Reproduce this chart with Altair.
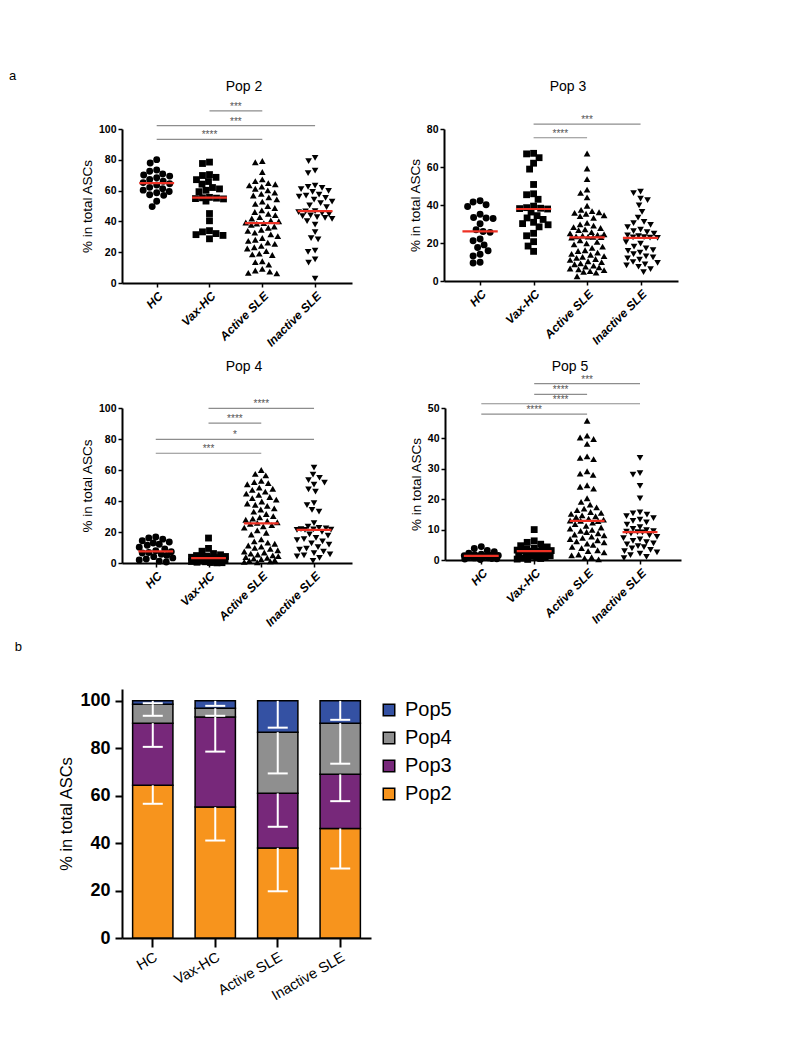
import math
import json
import altair as alt
import pandas as pd

FONT = "Liberation Sans"
GROUPS = ["HC", "Vax-HC", "Active SLE", "Inactive SLE"]
SHAPES = ["circle", "square", "triangle-up", "triangle-down"]
SIZES = [48, 44, 60, 60]

# ---------------- Pop 2 (% in total ASCs) ----------------
pop2_hc = [80.1, 77.9, 73.4, 72.6, 70.8, 70.1, 69.4, 68.3, 67.2, 66.1, 65.2, 64.4, 63.6, 62.1, 61.2,
           60.3, 59.4, 58.6, 57.3, 56.9, 53.1, 49.6]
pop2_vax = [78.5, 77.6, 70.4, 69.8, 68.6, 67.1, 65.9, 64.2, 62.0, 61.1, 60.2, 59.3, 55.6, 55.3, 55.1,
            54.8, 54.6, 53.2, 45.1, 40.4, 34.0, 33.2, 32.1, 31.4, 30.9, 28.7]
pop2_act = [79.2, 78.4, 72.1, 67.3, 66.2, 64.8, 64.1, 63.4, 62.6, 61.2, 60.1, 58.7, 57.9, 56.8, 55.6,
            54.3, 52.8, 51.4, 49.9, 48.7, 47.2, 46.1, 44.9, 44.1, 42.8, 41.9, 40.6, 40.1, 39.3, 38.9,
            38.6, 37.8, 36.7, 35.9, 34.6, 33.8, 32.7, 31.6, 30.4, 29.2, 28.1, 27.3, 26.2, 25.4, 24.1,
            23.2, 22.4, 20.7, 19.1, 18.6, 18.2, 14.1, 13.6, 11.9, 9.2, 8.1, 7.4, 6.6, 6.2]
pop2_ina = [81.2, 79.1, 72.9, 71.4, 63.2, 62.4, 61.8, 60.9, 59.8, 59.1, 57.4, 56.8, 56.1, 55.2, 54.1,
            52.9, 51.8, 50.4, 49.3, 46.7, 46.5, 46.0, 45.3, 44.8, 43.9, 43.4, 42.8, 42.3, 41.7, 40.2,
            37.9, 33.1, 29.2, 28.4, 21.1, 20.2, 15.4, 13.2, 2.9]
pop2_sig_from = [0, 0, 1]
pop2_sig_to = [2, 3, 2]
pop2_sig_level = [93.3, 102.2, 111.8]
pop2_sig_text = ["****", "***", "***"]

# ---------------- Pop 3 ----------------
pop3_hc = [42.2, 41.6, 40.1, 39.2, 35.1, 33.4, 33.2, 32.9, 30.1, 27.0, 26.1, 25.6, 22.1, 21.2, 19.0,
           17.6, 15.9, 14.1, 13.2, 9.9, 9.5]
pop3_vax = [67.2, 66.9, 64.9, 62.0, 58.9, 50.8, 45.9, 45.4, 43.0, 39.4, 38.6, 38.3, 38.1, 37.9, 36.3,
            34.4, 33.2, 32.4, 30.9, 30.2, 29.6, 28.5, 25.1, 23.8, 20.7, 18.4, 15.6]
pop3_act = [67.1, 59.2, 53.6, 48.1, 46.4, 44.0, 39.6, 37.4, 36.8, 36.2, 35.9, 35.4, 34.6, 34.1, 33.2,
            30.6, 29.8, 29.1, 28.4, 27.9, 27.2, 26.8, 25.7, 25.1, 24.6, 24.3, 23.9, 23.5, 23.4, 23.2,
            23.1, 22.9, 21.4, 20.6, 19.8, 19.3, 18.1, 17.4, 16.2, 15.8, 14.9, 14.3, 13.8, 13.1, 12.7,
            12.2, 11.6, 11.1, 10.4, 9.9, 9.3, 8.8, 8.1, 7.6, 7.2, 6.6, 6.1, 5.7, 5.2, 4.8, 4.4, 2.5]
pop3_ina = [47.1, 46.2, 43.4, 42.6, 39.8, 36.4, 33.3, 31.1, 30.4, 29.6, 28.3, 27.1, 26.2, 25.7, 24.9,
            24.0, 23.6, 23.1, 22.9, 22.8, 22.7, 20.4, 19.7, 18.1, 17.2, 16.3, 15.9, 15.0, 14.1, 13.0,
            12.4, 11.9, 11.3, 10.0, 9.6, 8.8, 8.2, 7.5, 6.3, 4.7]
pop3_sig_from = [1, 1]
pop3_sig_to = [2, 3]
pop3_sig_level = [75.4, 82.6]
pop3_sig_text = ["****", "***"]

# ---------------- Pop 4 ----------------
pop4_hc = [16.8, 16.2, 15.4, 14.3, 13.6, 12.9, 12.1, 11.4, 10.2, 9.1, 7.9, 7.2, 6.8, 6.4, 5.7, 4.9,
           4.1, 3.3, 2.6, 1.9, 1.2, 0.6]
pop4_vax = [16.1, 9.4, 7.6, 6.1, 5.3, 4.8, 4.5, 4.2, 3.9, 3.7, 3.5, 3.4, 3.3, 3.2, 3.0, 2.8, 2.5,
            2.2, 1.9, 1.6, 1.3, 1.0, 0.8, 0.5, 0.3, 0.2, 0.1]
pop4_act = [60.0, 57.5, 56.5, 53.0, 52.2, 51.5, 50.8, 48.6, 47.9, 47.2, 46.1, 44.8, 43.9, 42.6, 41.8,
            40.9, 39.7, 38.4, 37.6, 36.8, 35.2, 34.5, 33.1, 31.6, 30.2, 29.4, 28.6, 27.9, 27.1, 26.3,
            25.9, 25.3, 24.4, 23.6, 22.8, 21.1, 19.5, 18.4, 15.2, 13.9, 13.1, 12.4, 11.3, 10.6, 9.8,
            9.1, 8.2, 7.4, 6.8, 6.1, 5.5, 4.9, 4.4, 3.8, 3.3, 2.9, 2.4, 1.9, 1.5, 1.1, 0.7, 0.4]
pop4_ina = [61.5, 57.0, 55.0, 53.5, 51.8, 50.6, 47.5, 46.0, 38.6, 37.4, 34.2, 33.1, 25.8, 23.4, 22.6,
            22.3, 21.9, 21.7, 21.5, 21.4, 21.3, 20.1, 18.4, 17.6, 16.2, 15.4, 14.7, 13.9, 12.6, 11.8,
            10.3, 9.2, 8.6, 7.4, 6.3, 5.6, 4.9, 4.2, 3.3, 1.3]
pop4_sig_from = [0, 0, 1, 1]
pop4_sig_to = [2, 3, 2, 3]
pop4_sig_level = [70.8, 79.8, 90.3, 99.8]
pop4_sig_text = ["***", "*", "****", "****"]

# ---------------- Pop 5 ----------------
pop5_hc = [4.4, 3.8, 3.1, 2.7, 2.2, 1.9, 1.75, 1.6, 1.52, 1.44, 1.37, 1.29, 1.18, 1.06, 0.97, 0.88,
           0.76, 0.69, 0.52, 0.41, 0.33, 0.18]
pop5_vax = [10.0, 6.3, 5.8, 5.2, 4.7, 4.3, 3.9, 3.6, 3.4, 3.25, 3.1, 3.0, 2.95, 2.9, 2.7, 2.4, 2.1,
            1.9, 1.6, 1.4, 1.2, 1.0, 0.8, 0.6, 0.5, 0.3, 0.2]
pop5_act = [45.8, 40.9, 40.3, 39.8, 38.2, 34.1, 33.6, 33.2, 29.2, 28.4, 28.0, 24.6, 24.1, 23.5, 20.3,
            19.1, 18.2, 17.3, 16.9, 16.4, 15.8, 15.5, 15.2, 14.7, 14.4, 14.1, 13.6, 13.3, 13.0, 12.9,
            12.8, 12.3, 11.8, 11.2, 10.7, 10.3, 9.9, 9.6, 9.2, 8.8, 8.4, 8.1, 7.7, 7.3, 6.9, 6.5, 6.1,
            5.8, 5.4, 5.0, 4.3, 3.9, 3.2, 2.9, 2.5, 1.8, 1.5, 0.9, 0.6, 0.2]
pop5_ina = [33.6, 28.6, 28.1, 24.4, 20.3, 15.7, 15.3, 14.9, 14.4, 13.8, 13.3, 12.9, 12.4, 11.6, 10.8,
            10.2, 9.8, 9.5, 9.3, 9.2, 9.1, 8.7, 8.1, 7.6, 7.2, 6.8, 6.3, 5.9, 5.5, 5.1, 4.6, 4.2, 3.8,
            3.3, 2.9, 2.5, 2.1, 1.6, 1.0, 0.6]
pop5_sig_from = [0, 0, 1, 1]
pop5_sig_to = [2, 3, 2, 3]
pop5_sig_level = [48.0, 51.4, 54.5, 58.0]
pop5_sig_text = ["****", "****", "****", "***"]

# ---------------- b: stacked means with SD ----------------
BAR_POPS = ["Pop2", "Pop3", "Pop4", "Pop5"]
bar_hc_mean = [64.4, 26.2, 8.0, 1.4]
bar_vax_mean = [55.2, 38.0, 3.7, 3.1]
bar_act_mean = [38.0, 23.0, 25.8, 13.2]
bar_ina_mean = [46.2, 22.8, 21.6, 9.4]
bar_hc_sd = [7.8, 10.0, 4.9, 1.0]
bar_vax_sd = [14.1, 14.6, 3.2, 2.1]
bar_act_sd = [18.3, 14.1, 17.4, 11.3]
bar_ina_sd = [16.9, 11.3, 17.1, 8.0]
POP_COLORS = {"Pop5": "#3451A3", "Pop4": "#8F8F8F", "Pop3": "#77287A", "Pop2": "#F7941D"}

LABEL_EXPR = json.dumps(GROUPS) + "[datum.value]"


def swarm(values, ppu_y, px_per_x, diam=7.0, limit=17.0):
    n = len(values)
    order = sorted(range(n), key=lambda i: -values[i])
    cands = sorted([k * 0.5 for k in range(-int(limit * 2), int(limit * 2) + 1)],
                   key=lambda c: (abs(c), c))
    placed = []
    res = [0.0] * n
    for i in order:
        y = values[i] * ppu_y
        near = [(px, py) for px, py in placed if abs(py - y) < diam]
        chosen, best, bestc = None, -1.0, 0.0
        for c in cands:
            md = min((math.hypot(c - px, y - py) for px, py in near), default=1e9)
            if md >= diam:
                chosen = c
                break
            if md > best:
                best, bestc = md, c
        if chosen is None:
            chosen = bestc
        placed.append((chosen, y))
        res[i] = chosen / px_per_x
    return res


def text_mark(txt, x, y, color="black", size=13, align="left", baseline="top"):
    return alt.Chart(pd.DataFrame({"t": [txt]})).mark_text(
        align=align, baseline=baseline, font=FONT, fontSize=size, color=color
    ).encode(x=alt.value(x), y=alt.value(y), text="t:N")


def panel(title, lists, ymax, ystep, w, h, xdom, sig, title_y, extra=None):
    ppu = h / ymax
    pxx = w / (xdom[1] - xdom[0])
    rows = []
    for gi, (g, vals) in enumerate(zip(GROUPS, lists)):
        offs = swarm(vals, ppu, pxx)
        for v, o in zip(vals, offs):
            rows.append({"group": g, "gi": gi, "value": v, "xpos": gi + o})
    df = pd.DataFrame(rows)
    xs = alt.Scale(domain=xdom, nice=False, zero=False)
    ys = alt.Scale(domain=[0, ymax], nice=False, zero=True)
    xa = alt.Axis(values=[0, 1, 2, 3], labelExpr=LABEL_EXPR, title=None, grid=False,
                  labelAngle=-45, labelAlign="right", labelBaseline="top", labelFont=FONT,
                  labelFontSize=12, labelFontWeight="bold", labelFontStyle="italic",
                  labelOverlap=False, labelFlush=False, labelPadding=3, tickSize=4,
                  tickWidth=1.5, domainWidth=2, domainColor="black", tickColor="black",
                  labelColor="black")
    ya = alt.Axis(values=list(range(0, ymax + 1, ystep)), title="% in total ASCs",
                  titleFont=FONT, titleFontSize=13.5, titleFontWeight="normal",
                  titleColor="black", titlePadding=4, grid=False, labelFont=FONT,
                  labelFontSize=10.5, labelFontWeight="bold", labelColor="black",
                  tickSize=4, tickWidth=1.5, domainWidth=2, domainColor="black",
                  tickColor="black", labelPadding=2)

    def X(f):
        return alt.X(f, scale=xs, axis=xa)

    def Y(f):
        return alt.Y(f, scale=ys, axis=ya)

    pts = alt.Chart(df).mark_point(filled=True, opacity=1, color="black").encode(
        x=X("xpos:Q"), y=Y("value:Q"),
        shape=alt.Shape("group:N", scale=alt.Scale(domain=GROUPS, range=SHAPES), legend=None),
        size=alt.Size("group:N", scale=alt.Scale(domain=GROUPS, range=SIZES), legend=None),
    )
    med = alt.Chart(df).transform_aggregate(
        med="median(value)", groupby=["gi"]
    ).transform_calculate(
        xa="datum.gi - 0.33", xb="datum.gi + 0.33"
    ).mark_rule(color="#EE3124", strokeWidth=2.2).encode(
        x=X("xa:Q"), x2="xb:Q", y=Y("med:Q"))
    sdf = pd.DataFrame({"a": sig[0], "b": sig[1], "y": sig[2], "t": sig[3]})
    sr = alt.Chart(sdf).mark_rule(color="#8d8d8d", strokeWidth=1.2).encode(
        x=X("a:Q"), x2="b:Q", y=Y("y:Q"))
    st = alt.Chart(sdf).transform_calculate(m="(datum.a + datum.b) / 2").mark_text(
        font=FONT, fontSize=10, color="#555555", baseline="alphabetic", dy=-1
    ).encode(x=X("m:Q"), y=Y("y:Q"), text="t:N")
    ttl = text_mark(title, w / 2 + 7, title_y, size=14, align="center", baseline="alphabetic")
    layers = [pts, med, sr, st, ttl]
    if extra is not None:
        layers += extra
    return alt.layer(*layers).properties(width=w, height=h)


p2 = panel("Pop 2", [pop2_hc, pop2_vax, pop2_act, pop2_ina], 100, 20, 230, 154,
           [-0.657, 3.699], (pop2_sig_from, pop2_sig_to, pop2_sig_level, pop2_sig_text), -37.7,
           extra=[text_mark("a", -113, -59)])
p3 = panel("Pop 3", [pop3_hc, pop3_vax, pop3_act, pop3_ina], 80, 20, 234, 152,
           [-0.675, 3.70], (pop3_sig_from, pop3_sig_to, pop3_sig_level, pop3_sig_text), -37.7)
p4 = panel("Pop 4", [pop4_hc, pop4_vax, pop4_act, pop4_ina], 100, 20, 230, 155,
           [-0.64, 3.72], (pop4_sig_from, pop4_sig_to, pop4_sig_level, pop4_sig_text), -37.4)
p5 = panel("Pop 5", [pop5_hc, pop5_vax, pop5_act, pop5_ina], 50, 10, 236, 152,
           [-0.686, 3.775], (pop5_sig_from, pop5_sig_to, pop5_sig_level, pop5_sig_text), -37.4)

# ---------------- bar chart ----------------
bar_rows = []
for g, means, sds in zip(GROUPS,
                         [bar_hc_mean, bar_vax_mean, bar_act_mean, bar_ina_mean],
                         [bar_hc_sd, bar_vax_sd, bar_act_sd, bar_ina_sd]):
    for k, (p, m, s) in enumerate(zip(BAR_POPS, means, sds)):
        bar_rows.append({"group": g, "pop": p, "ord": k, "value": m, "sd": s})
bdf = pd.DataFrame(bar_rows)

bx = alt.Scale(domain=GROUPS, paddingInner=0.355, paddingOuter=0.17)
by = alt.Scale(domain=[0, 105], nice=False)
bxa = alt.Axis(title=None, labelAngle=-30, labelAlign="right", labelBaseline="top",
               labelFont=FONT, labelFontSize=14.5, labelColor="black", labelPadding=3,
               tickSize=9, tickWidth=2, domainWidth=2, domainColor="black", tickColor="black")
bya = alt.Axis(values=[0, 20, 40, 60, 80, 100], title="% in total ASCs", titleFont=FONT,
               titleFontSize=16.5, titleFontWeight="normal", titleColor="black", titlePadding=5,
               grid=False, labelFont=FONT, labelFontSize=18, labelFontWeight="bold",
               labelColor="black", tickSize=7, tickWidth=2, domainWidth=2, domainColor="black",
               tickColor="black", labelPadding=5)
leg_order = ["Pop5", "Pop4", "Pop3", "Pop2"]
bars = alt.Chart(bdf).mark_bar(stroke="black", strokeWidth=1.5).encode(
    x=alt.X("group:N", scale=bx, axis=bxa, sort=GROUPS),
    y=alt.Y("value:Q", scale=by, axis=bya, stack="zero"),
    color=alt.Color("pop:N",
                    scale=alt.Scale(domain=leg_order, range=[POP_COLORS[p] for p in leg_order]),
                    legend=alt.Legend(title=None, orient="none", legendX=257, legendY=11,
                                      symbolType="square", symbolSize=132,
                                      symbolStrokeColor="black", symbolStrokeWidth=1.5,
                                      symbolOpacity=1, labelFont=FONT, labelFontSize=20,
                                      labelColor="black", rowPadding=8, labelOffset=6)),
    order=alt.Order("ord:Q", sort="ascending"),
)
err = alt.Chart(bdf).transform_window(
    cum="sum(value)", groupby=["group"], sort=[alt.SortField("ord", order="ascending")],
    frame=[None, 0]
).transform_calculate(lo="datum.cum - datum.sd")
rules = err.mark_rule(color="white", strokeWidth=2).encode(
    x=alt.X("group:N", scale=bx, axis=bxa, sort=GROUPS),
    y=alt.Y("lo:Q", scale=by, axis=bya), y2="cum:Q")
caps = err.mark_tick(color="white", thickness=2, size=20, opacity=1).encode(
    x=alt.X("group:N", scale=bx, axis=bxa, sort=GROUPS),
    y=alt.Y("lo:Q", scale=by, axis=bya))
bar = alt.layer(
    bars, rules, caps,
    text_mark("b", -107.3, -48),
).properties(width=249, height=249)

row1 = alt.hconcat(p2, p3, spacing=56)
row2 = alt.hconcat(p4, p5, spacing=57)
top = alt.vconcat(row1, row2, spacing=10)
chart = alt.vconcat(top, bar, spacing=12).resolve_legend(
    color="independent"
).properties(
    padding={"left": 1, "top": 62, "right": 5, "bottom": 5}
).configure(font=FONT).configure_view(stroke=None)

chart.save("out.html", embed_options={"renderer": "svg", "actions": False})
